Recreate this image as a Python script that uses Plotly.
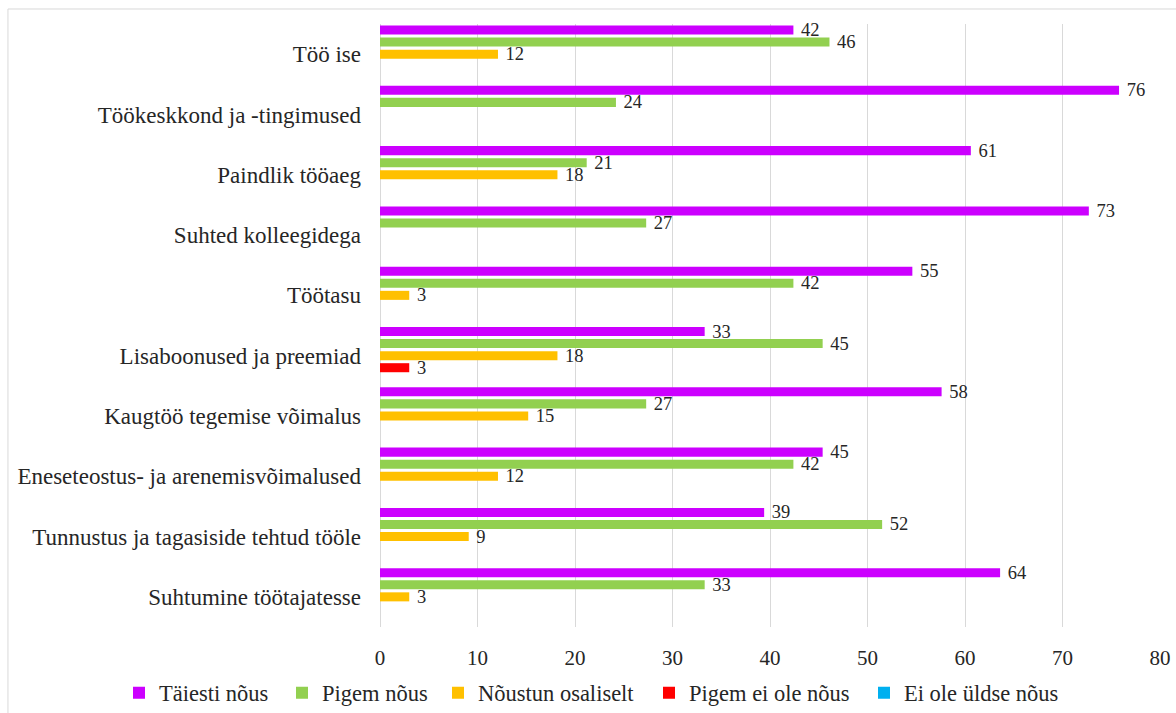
import plotly.graph_objects as go

categories = [
    "Töö ise",
    "Töökeskkond ja -tingimused",
    "Paindlik tööaeg",
    "Suhted kolleegidega",
    "Töötasu",
    "Lisaboonused ja preemiad",
    "Kaugtöö tegemise võimalus",
    "Eneseteostus- ja arenemisvõimalused",
    "Tunnustus ja tagasiside tehtud tööle",
    "Suhtumine töötajatesse",
]

series_names = ["Täiesti nõus", "Pigem nõus", "Nõustun osaliselt",
                "Pigem ei ole nõus", "Ei ole üldse nõus"]

taiesti = [42.4, 75.8, 60.6, 72.7, 54.6, 33.3, 57.6, 45.4, 39.4, 63.6]
pigem = [46.1, 24.2, 21.2, 27.3, 42.4, 45.4, 27.3, 42.4, 51.5, 33.3]
osaliselt = [12.1, 0, 18.2, 0, 3.0, 18.2, 15.2, 12.1, 9.1, 3.0]
pigem_ei = [0, 0, 0, 0, 0, 3.0, 0, 0, 0, 0]
ei_ole = [0, 0, 0, 0, 0, 0, 0, 0, 0, 0]

colors = ["#CC00FF", "#92D050", "#FFC000", "#FF0000", "#00B0F0"]

x_ticks = [0, 10, 20, 30, 40, 50, 60, 70, 80]

FONT = "Liberation Serif"
TXT = "#262626"
W, H = 1176, 713

# legend text start positions (px) for each series
legend_text_x = [159, 322, 478, 689, 904]
legend_names = ["legend", "legend2", "legend3", "legend4", "legend5"]

fig = go.Figure()
for i, (name, vals, col) in enumerate(zip(series_names, [taiesti, pigem, osaliselt, pigem_ei, ei_ole], colors)):
    fig.add_trace(go.Bar(
        name=name,
        y=categories,
        x=vals,
        orientation="h",
        marker=dict(color=col, line=dict(width=0)),
        text=["\u2005" + str(round(v)) if v > 0 else "" for v in vals],
        textposition="outside",
        textfont=dict(family=FONT, size=18.5, color=TXT),
        constraintext="none",
        cliponaxis=False,
        hoverinfo="x+y+name",
        legend=legend_names[i],
    ))

# light border around chart
fig.add_shape(type="rect", xref="paper", yref="paper",
              x0=-0.477, x1=1.03, y0=-0.16, y1=1.0249,
              line=dict(color="#D9D9D9", width=1), fillcolor="rgba(0,0,0,0)",
              layer="below")

legend_layout = {}
for ln, tx in zip(legend_names, legend_text_x):
    legend_layout[ln] = dict(
        orientation="h", xref="container", yref="container",
        x=(tx - 40) / W, xanchor="left", y=1 - 693 / H, yanchor="middle",
        font=dict(family=FONT, size=22.5, color=TXT),
        itemclick=False, bgcolor="rgba(0,0,0,0)", borderwidth=0,
    )

fig.update_layout(
    width=W, height=H,
    margin=dict(l=380, r=16, t=24, b=86, autoexpand=False),
    paper_bgcolor="white", plot_bgcolor="white",
    barmode="group", bargap=0, bargroupgap=0.25,
    font=dict(family=FONT, color=TXT),
    showlegend=True,
    xaxis=dict(range=[0, 80], tickvals=x_ticks, showgrid=True, gridcolor="#D9D9D9",
               gridwidth=1, zeroline=True, zerolinecolor="#D9D9D9", zerolinewidth=1,
               showline=False, ticks="", ticklabelstandoff=16,
               tickfont=dict(family=FONT, size=21, color=TXT)),
    yaxis=dict(autorange="reversed", showgrid=False, zeroline=False, showline=False,
               ticks="", ticklabelstandoff=18,
               tickfont=dict(family=FONT, size=23, color=TXT)),
    **legend_layout,
)

fig.write_html("out.html")
